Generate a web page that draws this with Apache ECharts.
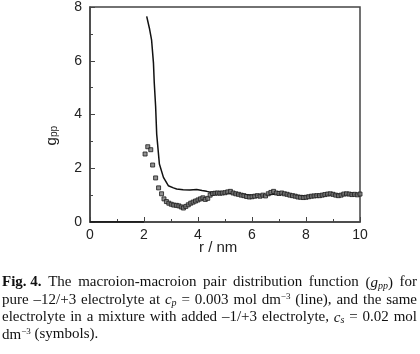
<!DOCTYPE html>
<html>
<head>
<meta charset="utf-8">
<style>
  html, body { margin: 0; padding: 0; background: #fff; }
  #chart { width: 420px; height: 354px; }
</style>
<script src="https://cdn.jsdelivr.net/npm/echarts@6/dist/echarts.min.js"></script>
</head>
<body>
<div id="chart"></div>
<script>
// pure -12/+3 electrolyte (line)
const lineR = [0, 0.5, 1.0, 1.5, 2.0, 2.05, 2.10, 2.20, 2.28, 2.35, 2.38, 2.43, 2.47, 2.57, 2.72, 2.90, 3.09, 3.21, 3.45, 3.70, 3.95, 4.15, 4.32, 4.50, 4.60, 5.0, 5.5, 6.0, 6.5, 7.0, 7.5, 8.0, 8.5, 9.0, 9.5, 10.0];
const lineG = [0, 0, 0, 0, 0, null, 7.65, 7.21, 6.78, 5.92, 5.18, 4.31, 3.27, 2.16, 1.66, 1.35, 1.27, 1.23, 1.20, 1.19, 1.21, 1.17, 1.14, 1.10, 1.08, 1.07, 1.04, 1.00, 1.00, 1.05, 1.00, 0.96, 1.00, 1.02, 1.02, 1.03];

// mixture with added -1/+3 electrolyte (symbols)
const symR = [2.04, 2.14, 2.25, 2.32, 2.43, 2.54, 2.65, 2.74, 2.83, 2.92, 3.01, 3.10, 3.20, 3.29, 3.38, 3.46, 3.55, 3.64, 3.73, 3.82, 3.91, 4.00, 4.09, 4.18, 4.27, 4.36, 4.45, 4.54, 4.63, 4.72, 4.81, 4.90, 5.00, 5.10, 5.20, 5.30, 5.40, 5.50, 5.60, 5.70, 5.80, 5.90, 6.00, 6.10, 6.20, 6.30, 6.40, 6.50, 6.60, 6.70, 6.80, 6.90, 7.00, 7.10, 7.20, 7.30, 7.40, 7.50, 7.60, 7.70, 7.80, 7.90, 8.00, 8.10, 8.20, 8.30, 8.40, 8.50, 8.60, 8.70, 8.80, 8.90, 9.00, 9.10, 9.20, 9.30, 9.40, 9.50, 9.60, 9.70, 9.80, 9.90, 10.00];
const symG = [2.53, 2.80, 2.69, 2.12, 1.64, 1.27, 1.05, 0.86, 0.76, 0.70, 0.66, 0.63, 0.62, 0.60, 0.56, 0.52, 0.58, 0.64, 0.70, 0.74, 0.78, 0.82, 0.86, 0.90, 0.84, 0.88, 1.00, 1.06, 1.07, 1.08, 1.07, 1.08, 1.09, 1.12, 1.14, 1.08, 1.05, 1.03, 1.00, 0.98, 0.95, 0.93, 0.94, 0.96, 0.98, 0.96, 1.00, 0.97, 1.05, 1.10, 1.14, 1.08, 1.06, 1.08, 1.05, 1.03, 1.00, 0.98, 0.96, 0.93, 0.92, 0.91, 0.92, 0.94, 0.96, 0.97, 0.98, 0.98, 1.00, 1.02, 1.04, 1.05, 1.03, 1.00, 0.98, 1.00, 1.04, 1.05, 1.04, 1.02, 1.03, 1.01, 1.04];

const xTicks = [0, 2, 4, 6, 8, 10];
const yTicks = [0, 2, 4, 6, 8];

const captionLines = [
  '{b|Fig. 4.} The macroion-macroion pair distribution function ({i|g}{sub|pp}) for',
  'pure \u201312/+3 electrolyte at {i|c}{sub|p} = 0.003 mol dm{sup|\u22123} (line), and the same',
  'electrolyte in a mixture with added \u20131/+3 electrolyte, {i|c}{sub|s} = 0.02 mol',
  'dm{sup|\u22123} (symbols).'
];

const axisColor = '#444';
const serif = '"Liberation Serif", "DejaVu Serif", serif';
const sans = '"Liberation Sans", Arial, sans-serif';

const chart = echarts.init(document.getElementById('chart'), null, { renderer: 'canvas' });

const captionStyle = {
  fontFamily: serif, fontSize: 15, fill: '#111',
  rich: {
    b: { fontFamily: serif, fontSize: 15, fontWeight: 'bold' },
    i: { fontFamily: serif, fontSize: 15, fontStyle: 'italic' },
    sub: { fontFamily: serif, fontSize: 10, fontStyle: 'italic', verticalAlign: 'bottom', padding: [6, 0, 0, 0] },
    sup: { fontFamily: serif, fontSize: 9, verticalAlign: 'top', padding: [0, 0, 7, 0] }
  }
};

// justified caption: split into words, spread them between the margins
const capLeft = 2, capRight = 417, capTop = 275, capStep = 17.3;
function wordWidth(w) {
  const t = new echarts.graphic.Text({ style: Object.assign({ text: w }, captionStyle) });
  return t.getBoundingRect().width;
}
const spaceW = wordWidth('a b') - wordWidth('ab');
const captionGraphics = [];
captionLines.forEach((line, li) => {
  // keep rich tags with their words
  const words = line.match(/(\{[^}]*\}|[^\s{]+)+/g);
  const widths = words.map(wordWidth);
  const total = widths.reduce((a, b) => a + b, 0);
  const last = li === captionLines.length - 1;
  const gap = last ? spaceW : (capRight - capLeft - total) / (words.length - 1);
  let x = capLeft;
  words.forEach((w, wi) => {
    captionGraphics.push({
      type: 'text', x: x, y: capTop + li * capStep,
      style: Object.assign({ text: w }, captionStyle)
    });
    x += widths[wi] + gap;
  });
});

chart.setOption({
  animation: false,
  grid: { left: 90, right: 60, top: 5, bottom: 132, show: true, borderColor: axisColor, borderWidth: 1.5 },
  xAxis: {
    type: 'value', min: 0, max: 10, interval: 2,
    axisLine: { lineStyle: { color: axisColor, width: 1.5 } },
    axisTick: { inside: true, length: 5, lineStyle: { color: axisColor } },
    minorTick: { show: true, splitNumber: 2, length: 3, lineStyle: { color: axisColor } },
    splitLine: { show: false },
    axisLabel: { color: '#222', fontFamily: sans, fontSize: 14, margin: 6,
      formatter: v => xTicks.includes(v) ? String(v) : '' }
  },
  yAxis: {
    type: 'value', min: 0, max: 8, interval: 2,
    axisLine: { show: true, lineStyle: { color: axisColor, width: 1.5 } },
    axisTick: { show: true, inside: true, length: 5, lineStyle: { color: axisColor } },
    minorTick: { show: true, splitNumber: 2, length: 3, lineStyle: { color: axisColor } },
    splitLine: { show: false },
    axisLabel: { color: '#222', fontFamily: sans, fontSize: 14, margin: 8,
      formatter: v => yTicks.includes(v) ? String(v) : '' }
  },
  series: [
    {
      type: 'line',
      data: lineR.map((r, i) => [r, lineG[i]]),
      showSymbol: false,
      connectNulls: false,
      lineStyle: { color: '#111', width: 1.5 },
      z: 2
    },
    {
      type: 'scatter',
      data: symR.map((r, i) => [r, symG[i]]),
      symbol: 'rect',
      symbolSize: 4,
      itemStyle: { color: '#777', borderColor: '#1a1a1a', borderWidth: 1 },
      z: 3
    }
  ],
  graphic: [
    {
      type: 'text', left: 44, top: 126, rotation: Math.PI / 2,
      style: {
        text: 'g{s|pp}', fontFamily: sans, fontSize: 15, fill: '#222',
        rich: { s: { fontFamily: sans, fontSize: 10, verticalAlign: 'bottom', padding: [5, 0, 0, 0] } }
      }
    },
    {
      type: 'text', left: 199, top: 240,
      style: { text: 'r / nm', fontFamily: sans, fontSize: 15, fill: '#222' }
    }
  ].concat(captionGraphics)
});
</script>
</body>
</html>
